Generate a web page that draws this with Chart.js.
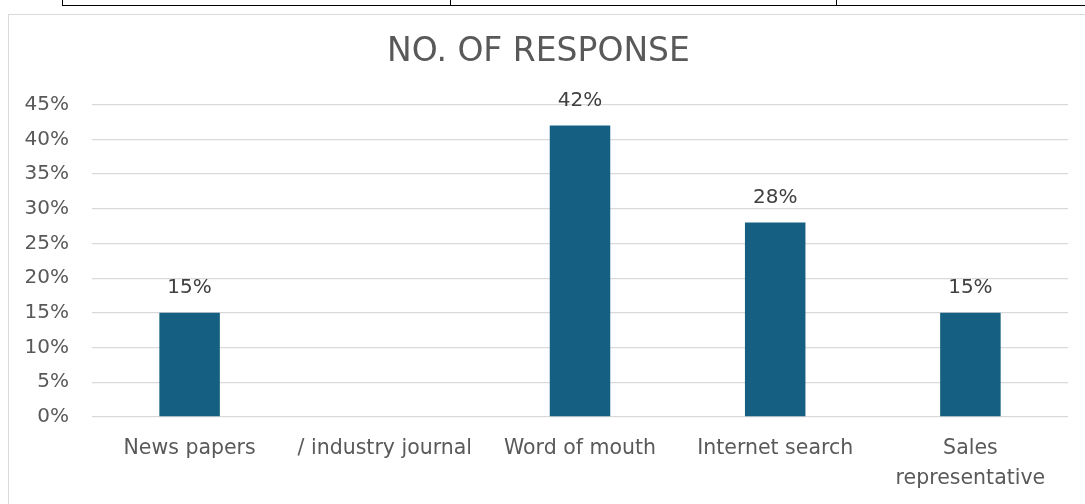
<!DOCTYPE html>
<html>
<head>
<meta charset="utf-8">
<script src="https://cdn.jsdelivr.net/npm/chart.js@4.4.1/dist/chart.umd.min.js"></script>
<style>
  html, body { margin: 0; padding: 0; background: #fff; overflow: hidden; }
  body { width: 1085px; height: 504px; position: relative; }
  .tline { position: absolute; background: #000; }
  #box {
    position: absolute; left: 8px; top: 14px; width: 1090px; height: 500px;
    border: 1px solid #d9d9d9; box-sizing: border-box;
  }
  #wrap { position: absolute; left: 0; top: 0; width: 1076px; height: 489px; }
</style>
</head>
<body>
<!-- table rows above the chart -->
<div class="tline" style="left:62px; top:0; width:1px; height:6px;"></div>
<div class="tline" style="left:450px; top:0; width:1px; height:6px;"></div>
<div class="tline" style="left:836px; top:0; width:1px; height:6px;"></div>
<div class="tline" style="left:62px; top:5px; width:1023px; height:1px;"></div>

<div id="box">
  <div id="wrap"><canvas id="chart"></canvas></div>
</div>

<script>
// Data
const categories = ['News papers', '/ industry journal', 'Word of mouth', 'Internet search', ['Sales', 'representative']];
const responses = [15, null, 42, 28, 15];   // percent
const yTicks = [0, 5, 10, 15, 20, 25, 30, 35, 40, 45];

const FONT = "'DejaVu Sans', sans-serif";
const textGrey = '#595959';

// Simple value labels above bars (no datalabels plugin available offline)
const barLabels = {
    id: 'barLabels',
    afterDatasetsDraw(chart) {
        const ctx = chart.ctx;
        const meta = chart.getDatasetMeta(0);
        ctx.save();
        ctx.font = '20px ' + FONT;
        ctx.fillStyle = '#404040';
        ctx.textAlign = 'center';
        ctx.textBaseline = 'middle';
        meta.data.forEach((bar, i) => {
            const v = responses[i];
            if (v === null || v === undefined) return;
            ctx.fillText(v + '%', bar.x, bar.y - 25);
        });
        ctx.restore();
    }
};

new Chart(document.getElementById('chart'), {
    type: 'bar',
    plugins: [barLabels],
    data: {
        labels: categories,
        datasets: [{
            data: responses,
            backgroundColor: '#156082',
            categoryPercentage: 1,
            barPercentage: 0.31
        }]
    },
    options: {
        responsive: true,
        maintainAspectRatio: false,
        animation: false,
        layout: { padding: { left: 0, right: 17, top: 0, bottom: 0 } },
        plugins: {
            legend: { display: false },
            tooltip: { enabled: false },
            title: {
                display: true,
                text: 'NO. OF RESPONSE',
                color: textGrey,
                font: { family: FONT, size: 33, weight: 'normal', lineHeight: 1.2 },
                padding: { top: 18, bottom: 32 }
            }
        },
        scales: {
            x: {
                grid: { display: false, drawTicks: false },
                border: { display: false },
                ticks: {
                    color: textGrey,
                    font: { family: FONT, size: 20.5, lineHeight: 1.45 },
                    padding: 17,
                    maxRotation: 0,
                    autoSkip: false
                },
                afterFit(scale) { scale.height = 87; }
            },
            y: {
                min: 0,
                max: 45,
                afterBuildTicks(scale) { scale.ticks = yTicks.map(v => ({ value: v })); },
                grid: { color: '#d9d9d9', lineWidth: 1.3, drawTicks: false },
                border: { display: false },
                ticks: {
                    color: textGrey,
                    font: { family: FONT, size: 20 },
                    padding: 23,
                    callback: v => v + '%'
                },
                afterFit(scale) { scale.width = 83; }
            }
        }
    }
});
</script>
</body>
</html>
